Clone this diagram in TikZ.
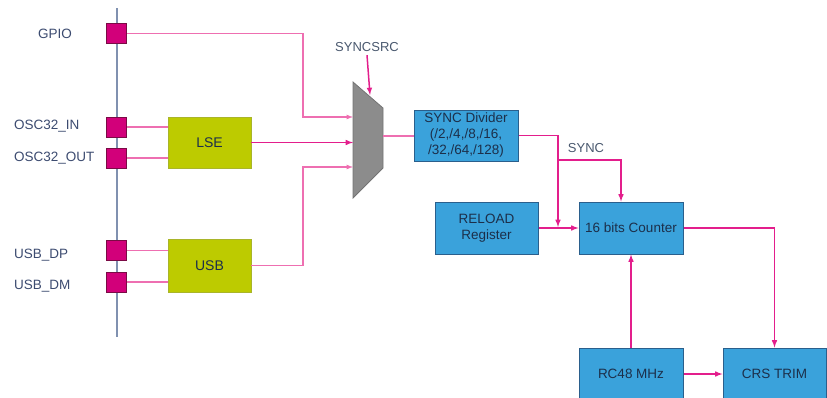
\documentclass[tikz,border=0pt]{standalone}
\usepackage{fontspec}
\setmainfont{Liberation Sans}
\usetikzlibrary{positioning}
\definecolor{padc}{HTML}{D2007A}
\definecolor{padb}{HTML}{7A0B45}
\definecolor{wirec}{HTML}{E31E8C}
\definecolor{thinc}{HTML}{EE6FB1}
\definecolor{blkc}{HTML}{3AA2DB}
\definecolor{blkb}{HTML}{2A5F8C}
\definecolor{ylwc}{HTML}{BDCB00}
\definecolor{ylwb}{HTML}{A9B52A}
\definecolor{txtc}{HTML}{1C2F4A}
\definecolor{lblc}{HTML}{3C4B70}
\definecolor{barc}{HTML}{8091B0}
\tikzset{>=latex,
  pad/.style={draw=padb, fill=padc, line width=1pt, minimum size=20pt, inner sep=0pt},
  lbl/.style={anchor=west, text=lblc, inner sep=0pt, font=\fontsize{13.5}{15}\selectfont},
  blk/.style={draw=blkb, fill=blkc, line width=1pt, text=txtc, align=center, inner sep=0pt, font=\fontsize{13.5}{16}\selectfont},
  ylw/.style={draw=ylwb, fill=ylwc, line width=0.6pt, text=txtc, minimum width=83pt, inner sep=0pt, font=\fontsize{14}{16}\selectfont},
  sig/.style={draw=wirec, line width=1.5pt},
  thn/.style={draw=thinc, line width=1.2pt}}

\begin{document}
\begin{tikzpicture}[x=1pt,y=-1pt]
      \useasboundingbox (0,0) rectangle (827,397);
      \clip (0,0) rectangle (827,397);
      \coordinate (bt) at (117,8);
      \coordinate (bb) at (117,337);
      \draw[barc, line width=1.5pt] (bt) -- (bb);
      % pads
      \node[pad] (p1) at (116.5,33.5) {};
      \node[pad] (p2) at (116.5,127) {};
      \node[pad, below of=p2, node distance=31pt] (p3) {};
      \node[pad] (p4) at (116.5,250.5) {};
      \node[pad, below of=p4, node distance=31.5pt] (p5) {};
      \node[lbl] (l1) at (38,34) {GPIO};
      \node[lbl] (l2) at (14,126) {OSC32\_IN};
      \node[lbl] (l3) at (14,158) {OSC32\_OUT};
      \node[lbl] (l4) at (14,255) {USB\_DP};
      \node[lbl] (l5) at (14,286) {USB\_DM};
      \node[ylw, minimum height=51pt] (nlse) at (209.5,142.5) {LSE};
      \node[ylw, minimum height=53pt] (nusb) at (209.5,265.5) {USB};
      % mux
      \coordinate (m1) at (353,82);
      \coordinate (m2) at (383,108);
      \coordinate (m3) at (383,168);
      \coordinate (m4) at (353,198);
      \filldraw[draw=black!55, fill=black!45, line width=0.8pt] (m1) -- (m2) -- (m3) -- (m4) -- cycle;
      \node[text=txtc!80, font=\fontsize{13}{15}\selectfont] (ns) at (367,47) {SYNCSRC};
      \coordinate (aux1) at (303,117);
      \coordinate (aux2) at (303,167);
      \coordinate (aux3) at (370,95);
      \coordinate (aux6) at (383,136);
      \node[blk, minimum width=104pt, minimum height=51pt] (ndiv) at (466,135.5) {SYNC Divider\\(/2,/4,/8,/16,\\/32,/64,/128)};
      \node[blk, minimum width=103pt, minimum height=52pt] (nrel) at (486.5,228) {RELOAD\\Register};
      \node[blk, minimum width=104pt, minimum height=52pt, right of=nrel, node distance=144.5pt] (n16) {16 bits Counter};
      \node[blk, minimum width=104pt, minimum height=52pt] (nrc) at (631,374) {RC48 MHz};
      \node[blk, minimum width=103pt, minimum height=52pt, right of=nrc, node distance=143.5pt] (ncrs) {CRS TRIM};
      \coordinate (aux4) at (558,227);
      \coordinate (aux5) at (558,160);
      \node[text=txtc!80, font=\fontsize{13}{15}\selectfont] (nsy) at (586,148) {SYNC};
      % wires
      \draw[thn] (p2.east) -- (p2.east -| nlse.west);
      \draw[thn] (p3.east) -- (p3.east -| nlse.west);
      \draw[thn] (p4.east) -- (p4.east -| nusb.west);
      \draw[thn] (p5.east) -- (p5.east -| nusb.west);
      \draw[thn, ->] (p1.east) -| (aux1) -- (aux1 -| m1);
      \draw[sig, ->] (nlse.east) -- (nlse.east -| m1);
      \draw[thn, ->] (nusb.east) -| (aux2) -- (aux2 -| m1);
      \draw[sig, ->] (ns.south) -- (aux3);
      \draw[thn] (aux6) -- (aux6 -| ndiv.west);
      \draw[sig, ->] (ndiv.east) -| (aux4);
      \draw[sig, ->] (aux5) -| ([xshift=-10pt]n16.north);
      \draw[sig, ->] (nrel.east) -- (n16.west);
      \draw[sig, ->] (n16.east) -| (ncrs.north);
      \draw[sig, ->] (nrc.north) -- (n16.south);
      \draw[sig, ->] (nrc.east) -- (ncrs.west);
\end{tikzpicture}
\end{document}
